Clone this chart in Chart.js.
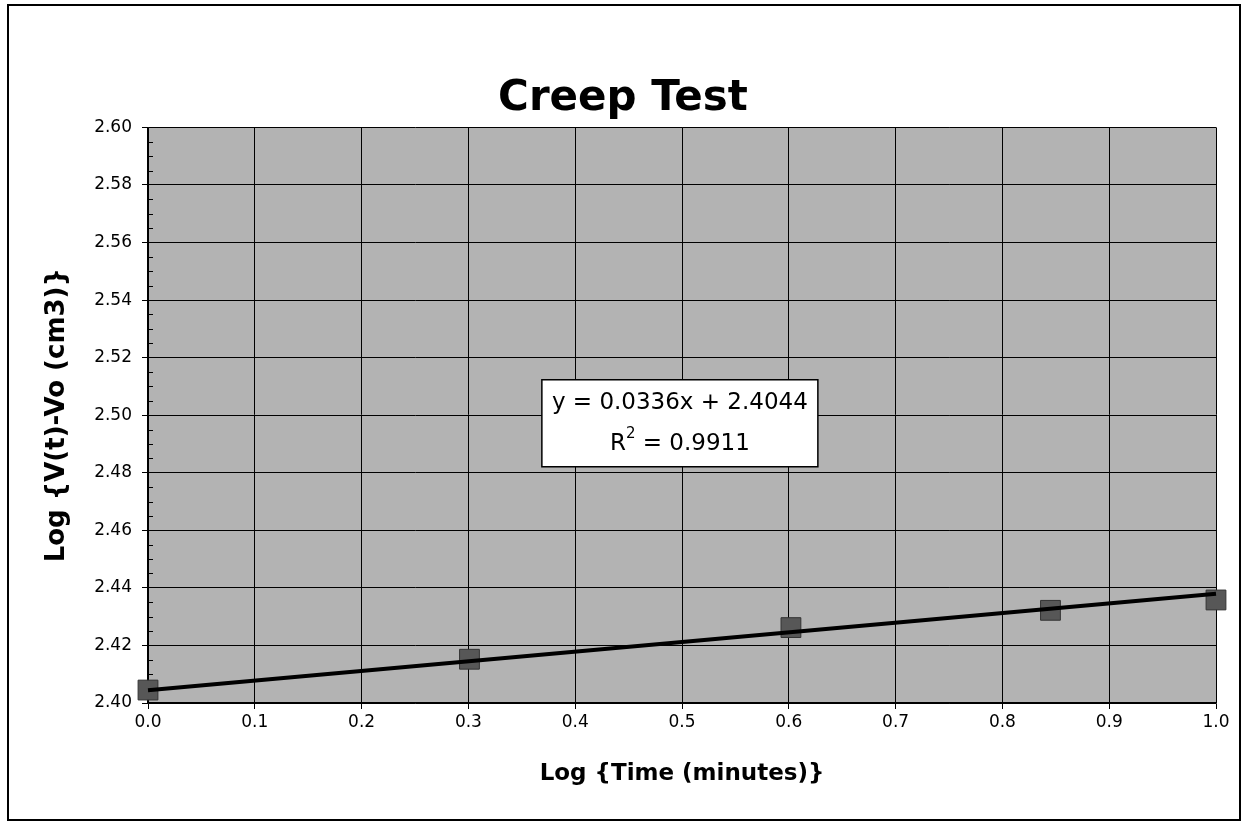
<!DOCTYPE html>
<html>
<head>
<meta charset="utf-8">
<script src="https://cdn.jsdelivr.net/npm/chart.js@4"></script>
<style>
  html, body { margin: 0; padding: 0; background: #fff; }
  #wrap { width: 1246px; height: 826px; }
</style>
</head>
<body>
<div id="wrap"><canvas id="myChart"></canvas></div>
<script>
// log time (minutes) and log volume change
const logTime = [0.0, 0.301, 0.602, 0.845, 1.0];
const logVolume = [2.4045, 2.4152, 2.4262, 2.4322, 2.4358];
// trend line ends (from the Excel fit y = 0.0336x + 2.4044)
const trendX = [0.0, 1.0];
const trendY = [2.4044, 2.4380];
const eqLines = ['y = 0.0336x + 2.4044', 'R', ' = 0.9911'];

const ctx = document.getElementById('myChart');
const FONT = '"DejaVu Sans", Arial, sans-serif';

const frame = {
  id: 'frame',
  beforeDraw(chart) {
    const c = chart.ctx;
    const a = chart.chartArea;
    c.save();
    c.fillStyle = '#fff';
    c.fillRect(0, 0, chart.width, chart.height);
    c.strokeStyle = '#000';
    c.lineWidth = 2;
    c.strokeRect(8, 5, 1232, 815);
    c.fillStyle = '#b3b3b3';
    c.fillRect(a.left, a.top, a.right - a.left, a.bottom - a.top);
    c.restore();
  },
  // small minor ticks on the inside of the value axis
  afterDraw(chart) {
    const c = chart.ctx;
    const y = chart.scales.y;
    const left = chart.chartArea.left;
    c.save();
    c.strokeStyle = '#000';
    c.lineWidth = 1;
    for (let i = 0; i <= 40; i++) {
      if (i % 4 === 0) continue;
      const py = Math.round(y.getPixelForValue(2.40 + i * 0.005)) + 0.5;
      c.beginPath();
      c.moveTo(left, py);
      c.lineTo(left + 5, py);
      c.stroke();
    }
    c.restore();
  }
};

// the equation label box
const equation = {
  id: 'equation',
  afterDatasetsDraw(chart) {
    const c = chart.ctx;
    const cx = chart.scales.x.getPixelForValue(0.498);
    const cy = chart.scales.y.getPixelForValue(2.4972);
    const w = 276, h = 87;
    c.save();
    c.fillStyle = '#fff';
    c.fillRect(cx - w / 2, cy - h / 2, w, h);
    c.strokeStyle = '#000';
    c.lineWidth = 1.5;
    c.strokeRect(cx - w / 2, cy - h / 2, w, h);
    c.fillStyle = '#000';
    c.font = '23px ' + FONT;
    c.textAlign = 'center';
    c.textBaseline = 'middle';
    c.fillText(eqLines[0], cx, cy - 20);
    // R^2 line with superscript
    const wR = c.measureText(eqLines[1]).width;
    const wRest = c.measureText(eqLines[2]).width;
    c.font = '15px ' + FONT;
    const wSup = c.measureText('2').width;
    const total = wR + wSup + wRest;
    const x0 = cx - total / 2;
    c.textAlign = 'left';
    c.font = '23px ' + FONT;
    c.fillText(eqLines[1], x0, cy + 21);
    c.font = '15px ' + FONT;
    c.fillText('2', x0 + wR, cy + 11);
    c.font = '23px ' + FONT;
    c.fillText(eqLines[2], x0 + wR + wSup, cy + 21);
    c.restore();
  }
};

new Chart(ctx, {
  type: 'scatter',
  data: {
    datasets: [{
      type: 'line',
      label: 'Trend',
      data: trendX.map((x, i) => ({ x: x, y: trendY[i] })),
      borderColor: '#000',
      borderWidth: 4,
      pointRadius: 0,
      fill: false,
      clip: false,
      order: 0
    }, {
      label: 'Creep',
      data: logTime.map((x, i) => ({ x: x, y: logVolume[i] })),
      pointStyle: 'rect',
      pointRadius: 14,
      backgroundColor: '#575757',
      borderColor: '#333',
      borderWidth: 1,
      clip: false,
      order: 1
    }]
  },
  options: {
    responsive: true,
    maintainAspectRatio: false,
    animation: false,
    layout: { padding: { left: 30, right: 30, top: 0, bottom: 28 } },
    plugins: {
      legend: { display: false },
      tooltip: { enabled: false },
      title: {
        display: true,
        text: 'Creep Test',
        color: '#000',
        font: { family: FONT, size: 42, weight: 'bold' },
        padding: { top: 74, bottom: 3 }
      }
    },
    scales: {
      x: {
        type: 'linear',
        min: 0,
        max: 1,
        afterFit(scale) { scale.height = 95; },
        ticks: {
          stepSize: 0.1,
          color: '#000',
          padding: 3,
          font: { family: FONT, size: 17 },
          callback: v => v.toFixed(1)
        },
        grid: { color: '#000', lineWidth: 1, tickLength: 6 },
        border: { color: '#000', width: 1.5 },
        title: {
          display: true,
          text: 'Log {Time (minutes)}',
          color: '#000',
          font: { family: FONT, size: 23, weight: 'bold' },
          padding: { top: 4, bottom: 10 }
        }
      },
      y: {
        type: 'linear',
        min: 2.40,
        max: 2.60,
        afterFit(scale) { scale.width = 118; },
        ticks: {
          stepSize: 0.02,
          color: '#000',
          padding: 10,
          font: { family: FONT, size: 17 },
          callback: v => v.toFixed(2)
        },
        grid: { color: '#000', lineWidth: 1, tickLength: 6 },
        border: { color: '#000', width: 1.5 },
        title: {
          display: true,
          text: 'Log {V(t)-Vo (cm3)}',
          color: '#000',
          font: { family: FONT, size: 26, weight: 'bold' },
          padding: { top: 12, bottom: 0 }
        }
      }
    }
  },
  plugins: [frame, equation]
});
</script>
</body>
</html>
